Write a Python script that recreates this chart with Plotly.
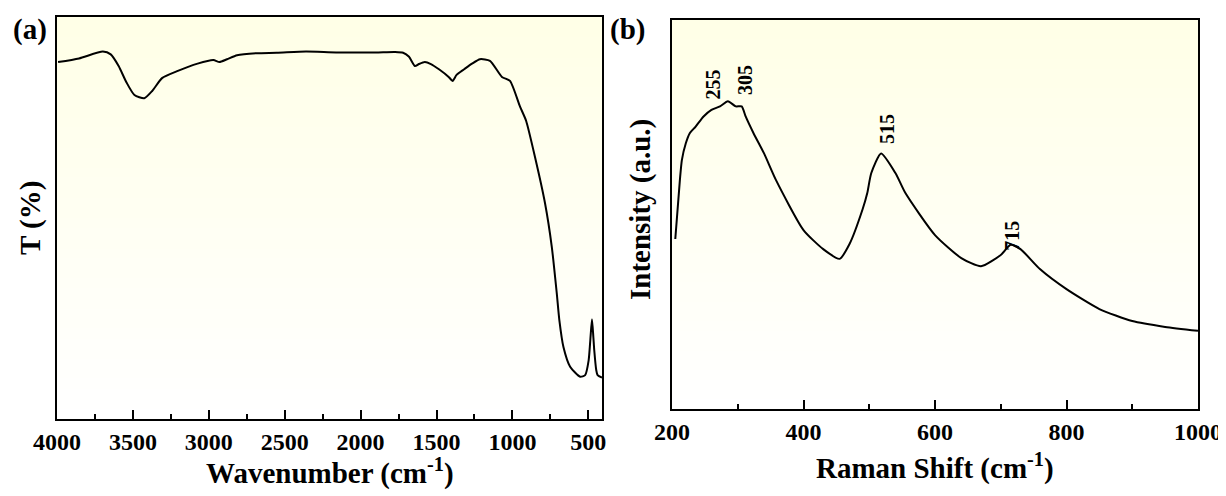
import plotly.graph_objects as go

# ---------------- data ----------------
ftir_wavenumber = [3993, 3855, 3698, 3646, 3594, 3542, 3490, 3425, 3373, 3308, 3204, 3074,
                   2970, 2930, 2880, 2814, 2683, 2553, 2360, 2162, 1902, 1773, 1720, 1681,
                   1642, 1616, 1577, 1537, 1484, 1420, 1394, 1368, 1318, 1266, 1214, 1148,
                   1069, 1016, 950, 910, 851, 785, 741, 708, 691, 664, 620, 554, 521, 498,
                   487, 476, 467, 461, 448, 439, 410]
ftir_T = [88.8, 89.7, 91.4, 90.7, 87.8, 83.7, 80.6, 79.8, 81.6, 84.8, 86.6, 88.4,
          89.3, 88.8, 89.5, 90.5, 91.0, 91.1, 91.4, 91.2, 91.2, 91.3, 91.1, 90.1,
          87.8, 88.3, 88.8, 88.3, 87.0, 85.1, 84.1, 85.6, 87.0, 88.4, 89.5, 89.1,
          85.1, 84.1, 77.7, 74.2, 65.1, 53.6, 42.9, 31.3, 24.6, 17.9, 13.0, 10.5, 10.9, 14.6,
          19.6, 24.8, 20.4, 17.1, 12.2, 10.9, 10.3]

raman_shift = [205, 212, 215, 221, 227, 236, 248, 260, 273, 285, 297, 306, 312, 324, 340, 358,
               400, 430, 455, 470, 490, 497, 503, 518, 540, 555, 600, 640, 670, 700, 715,
               730, 760, 800, 850, 900, 950, 1000]
raman_I = [43.7, 58.9, 64.0, 68.3, 70.9, 72.6, 75.2, 76.9, 77.8, 79.1, 77.8, 77.8, 75.2, 70.9,
           65.7, 58.9, 46.0, 41.1, 38.6, 42.4, 51.4, 55.5, 60.6, 65.7, 60.6, 55.5, 44.7, 38.8,
           36.7, 39.6, 42.2, 41.1, 35.9, 30.8, 25.7, 22.6, 21.1, 20.1]

peak_labels = ["255", "305", "515", "715"]
peak_label_x = [263, 312, 527, 717]
peak_label_y = [83.5, 84.5, 72.0, 44.5]

ftir_ticks = [4000, 3500, 3000, 2500, 2000, 1500, 1000, 500]
raman_ticks = [200, 400, 600, 800, 1000]

# ---------------- figure ----------------
# the page body has an 8px margin, so the figure is placed 8px in from the window corner
OFF = 8
W, H = 1226 - OFF, 496 - OFF
FONT = "Liberation Serif"

def px_x(p):
    return (p - OFF) / W

def px_y(p):
    return 1 - (p - OFF) / H

left_dom_x = [px_x(57), px_x(602)]
left_dom_y = [px_y(419), px_y(17)]
right_dom_x = [px_x(672), px_x(1198)]
right_dom_y = [px_y(409), px_y(20)]

fig = go.Figure()
fig.add_trace(go.Scatter(x=ftir_wavenumber, y=ftir_T, mode="lines",
                         line=dict(color="black", width=2, shape="spline", smoothing=0.6),
                         xaxis="x", yaxis="y", showlegend=False))
fig.add_trace(go.Scatter(x=raman_shift, y=raman_I, mode="lines",
                         line=dict(color="black", width=2, shape="spline", smoothing=0.6),
                         xaxis="x2", yaxis="y2", showlegend=False))

tickfont = dict(family=FONT, size=24, color="black", weight="bold")
common_x = dict(showline=True, linecolor="black", linewidth=1.5, mirror=True,
                ticks="inside", ticklen=9, tickwidth=1.5, tickcolor="black",
                showgrid=False, zeroline=False, tickfont=tickfont, automargin=False)
common_y = dict(showline=True, linecolor="black", linewidth=1.5, mirror=True,
                ticks="", showticklabels=False, showgrid=False, zeroline=False,
                automargin=False)

fig.update_layout(
    width=W, height=H,
    margin=dict(l=0, r=0, t=0, b=0),
    paper_bgcolor="white", plot_bgcolor="white",
    xaxis=dict(domain=left_dom_x, anchor="y", range=[4000, 410],
               tickvals=ftir_ticks, ticktext=[str(t) for t in ftir_ticks],
               minor=dict(ticks="inside", ticklen=5, tickwidth=1.5, tickcolor="black",
                          tickvals=[3750, 3250, 2750, 2250, 1750, 1250, 750]),
               **common_x),
    yaxis=dict(domain=left_dom_y, anchor="x", range=[0, 100], **common_y),
    xaxis2=dict(domain=right_dom_x, anchor="y2", range=[200, 1000],
                tickvals=raman_ticks, ticktext=[str(t) for t in raman_ticks],
                minor=dict(ticks="inside", ticklen=5, tickwidth=1.5, tickcolor="black",
                           tickvals=[300, 500, 700, 900]),
                **common_x),
    yaxis2=dict(domain=right_dom_y, anchor="x2", range=[0, 100], **common_y),
)

# background gradient (light yellow at top to white at bottom)
n_bands = 40
shapes = []
for xa, ya in (("x", "y"), ("x2", "y2")):
    for i in range(n_bands):
        t = i / n_bands
        c = int(round(255 - 25 * t))
        shapes.append(dict(type="rect", xref=f"{xa} domain", yref=f"{ya} domain",
                           x0=0, x1=1, y0=i / n_bands, y1=(i + 1) / n_bands + 0.002,
                           fillcolor=f"rgb(255,255,{c})", line=dict(width=0), layer="below"))
fig.update_layout(shapes=shapes)

annotations = []
title_font = dict(family=FONT, size=29, color="black", weight="bold")
annotations.append(dict(text="Wavenumber (cm<sup>-1</sup>)", xref="paper", yref="paper",
                        x=px_x(330), y=px_y(471), showarrow=False, font=title_font,
                        xanchor="center", yanchor="middle"))
annotations.append(dict(text="Raman Shift (cm<sup>-1</sup>)", xref="paper", yref="paper",
                        x=px_x(935), y=px_y(466), showarrow=False, font=title_font,
                        xanchor="center", yanchor="middle"))
annotations.append(dict(text="T (%)", xref="paper", yref="paper", textangle=-90,
                        x=px_x(30), y=px_y(218), showarrow=False, font=title_font,
                        xanchor="center", yanchor="middle"))
annotations.append(dict(text="Intensity (a.u.)", xref="paper", yref="paper", textangle=-90,
                        x=px_x(641), y=px_y(210), showarrow=False, font=title_font,
                        xanchor="center", yanchor="middle"))
annotations.append(dict(text="(a)", xref="paper", yref="paper",
                        x=px_x(30), y=px_y(30), showarrow=False, font=title_font,
                        xanchor="center", yanchor="middle"))
annotations.append(dict(text="(b)", xref="paper", yref="paper",
                        x=px_x(627), y=px_y(30), showarrow=False, font=title_font,
                        xanchor="center", yanchor="middle"))
for lab, lx, ly in zip(peak_labels, peak_label_x, peak_label_y):
    annotations.append(dict(text=lab, xref="x2", yref="y2", x=lx, y=ly, textangle=-90,
                            showarrow=False, xanchor="center", yanchor="middle",
                            font=dict(family=FONT, size=20, color="black", weight="bold")))
fig.update_layout(annotations=annotations)

fig.write_html("out.html")
